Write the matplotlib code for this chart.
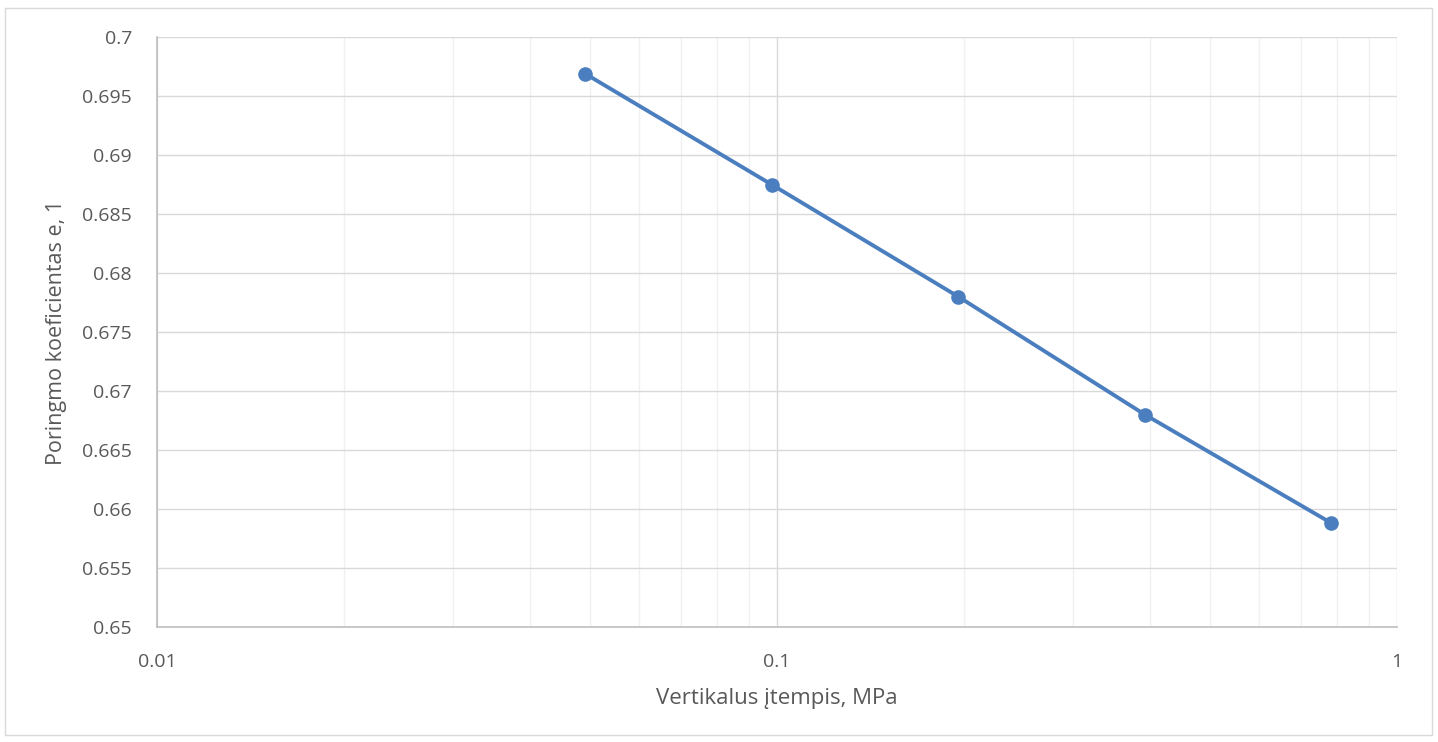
import numpy as np
import matplotlib.pyplot as plt
from matplotlib.patches import Rectangle
from matplotlib.ticker import FixedLocator, NullFormatter

plt.rcParams['font.family'] = ['Open Sans', 'DejaVu Sans']

stress = [0.049, 0.098, 0.196, 0.392, 0.784]
void_ratio = [0.6969, 0.6875, 0.6780, 0.6680, 0.6588]
y_ticks = [0.65, 0.655, 0.66, 0.665, 0.67, 0.675, 0.68, 0.685, 0.69, 0.695, 0.7]
y_labels = ['0.65', '0.655', '0.66', '0.665', '0.67', '0.675', '0.68', '0.685', '0.69', '0.695', '0.7']
x_ticks = [0.01, 0.1, 1]
x_labels = ['0.01', '0.1', '1']

fig = plt.figure(figsize=(14.38, 7.42), dpi=100)
ax = fig.add_axes([157 / 1438, 1 - 627 / 742, 1240 / 1438, 590 / 742])

fig.patches.append(Rectangle((5 / 1438, 1 - 735 / 742), 1427 / 1438, 727 / 742,
                             transform=fig.transFigure, fill=False,
                             edgecolor='#d9d9d9', linewidth=1))

ax.plot(stress, void_ratio, color='#4a7ebf', linewidth=2.8, marker='o',
        markersize=9.5, zorder=3)

ax.set_xscale('log')
ax.set_xlim(0.01, 1)
ax.set_ylim(0.65, 0.7)
ax.set_xticks(x_ticks)
ax.set_xticklabels(x_labels)
ax.set_yticks(y_ticks)
ax.set_yticklabels(y_labels)
minor = [m * d for d in (0.01, 0.1) for m in range(2, 10)]
ax.xaxis.set_minor_locator(FixedLocator(minor))
ax.xaxis.set_minor_formatter(NullFormatter())

ax.grid(which='major', color='#d9d9d9', linewidth=1)
ax.grid(which='minor', axis='x', color='#f0f0f0', linewidth=1)
ax.set_axisbelow(True)

for s in ['top', 'right']:
    ax.spines[s].set_visible(False)
for s in ['left', 'bottom']:
    ax.spines[s].set_color('#bfbfbf')
    ax.spines[s].set_linewidth(1.2)

ax.tick_params(which='both', length=0, labelsize=14, labelcolor='#595959')
ax.tick_params(axis='x', pad=19)
ax.tick_params(axis='y', pad=18)

ax.set_xlabel('Vertikalus įtempis, MPa', fontsize=16, color='#595959', labelpad=12)
ax.set_ylabel('Poringmo koeficientas e, 1', fontsize=15.5, color='#595959', labelpad=11)

fig.savefig('out.png', dpi=100)
